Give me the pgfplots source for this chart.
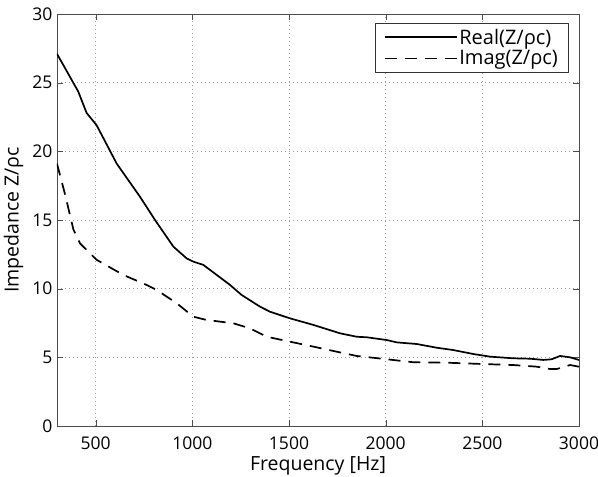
\documentclass[border=0pt]{standalone}
\usepackage{pgfplots}
\pgfplotsset{compat=1.18}
\usepackage{fontspec}
\setmainfont{Open Sans}
\begin{document}
\begin{tikzpicture}
\useasboundingbox (-57pt,-51pt) rectangle (541pt,426pt);
\begin{axis}[
scale only axis,
width=522pt,
height=412pt,
xmin=300, xmax=3000,
ymin=0, ymax=30,
xtick={500,1000,1500,2000,2500,3000},
ytick={0,5,10,15,20,25,30},
tick align=inside,
major tick length=6pt,
tick style={black!70},
axis line style={black!70},
grid=major,
grid style={dash pattern=on 0.8pt off 3.2pt, black!40},
font=\fontsize{17.5}{21}\selectfont,
/pgf/number format/assume math mode=true,
/pgf/number format/1000 sep={},
xticklabel style={yshift=-7pt},
yticklabel style={xshift=-1pt},
xlabel={Frequency [Hz]},
ylabel={Impedance  Z/ρc},
label style={font=\fontsize{19.5}{23}\selectfont},
xlabel style={at={(axis description cs:0.5,0)}, anchor=north, yshift=-27pt},
ylabel style={at={(axis description cs:-0.058,0.5)}, anchor=south},
legend style={at={(0.979,0.979)}, anchor=north east, draw=black!80,
  font=\fontsize{20}{23}\selectfont, inner xsep=8pt, inner ysep=4pt, row sep=1pt},
legend cell align=left,
legend image code/.code={\draw[#1, line width=1.7pt] (0pt,0pt) -- (72pt,0pt);},
]
\addplot[black, line width=1.7pt] coordinates {
(300,27.1) (410,24.35) (453,22.8) (505,21.9) (609,19.1) (729,16.7) (807,15.0)
(902,13.06) (971,12.2) (1005,11.97) (1057,11.73) (1195,10.27) (1255,9.54)
(1350,8.69) (1402,8.32) (1505,7.84) (1626,7.36) (1764,6.75) (1850,6.5)
(1902,6.46) (2006,6.26) (2057,6.09) (2161,5.97) (2264,5.70) (2350,5.53)
(2454,5.24) (2540,5.05) (2660,4.93) (2747,4.90) (2816,4.81) (2859,4.86)
(2902,5.10) (2954,5.0) (3000,4.81)
};
\addlegendentry{Real(Z/ρc)}
\addplot[black, line width=1.7pt, dash pattern=on 12pt off 8pt] coordinates {
(300,19.1) (341,16.9) (385,14.3) (419,13.3) (505,12.1) (643,11.0) (764,10.27)
(816,9.9) (919,8.94) (1005,7.96) (1074,7.72) (1212,7.48) (1298,7.11)
(1385,6.5) (1505,6.14) (1626,5.78) (1747,5.41) (1850,5.10) (2006,4.86)
(2144,4.64) (2316,4.61) (2488,4.52) (2660,4.44) (2781,4.32) (2850,4.15)
(2885,4.15) (2954,4.44) (3000,4.32)
};
\addlegendentry{Imag(Z/ρc)}
\end{axis}
\end{tikzpicture}
\end{document}
